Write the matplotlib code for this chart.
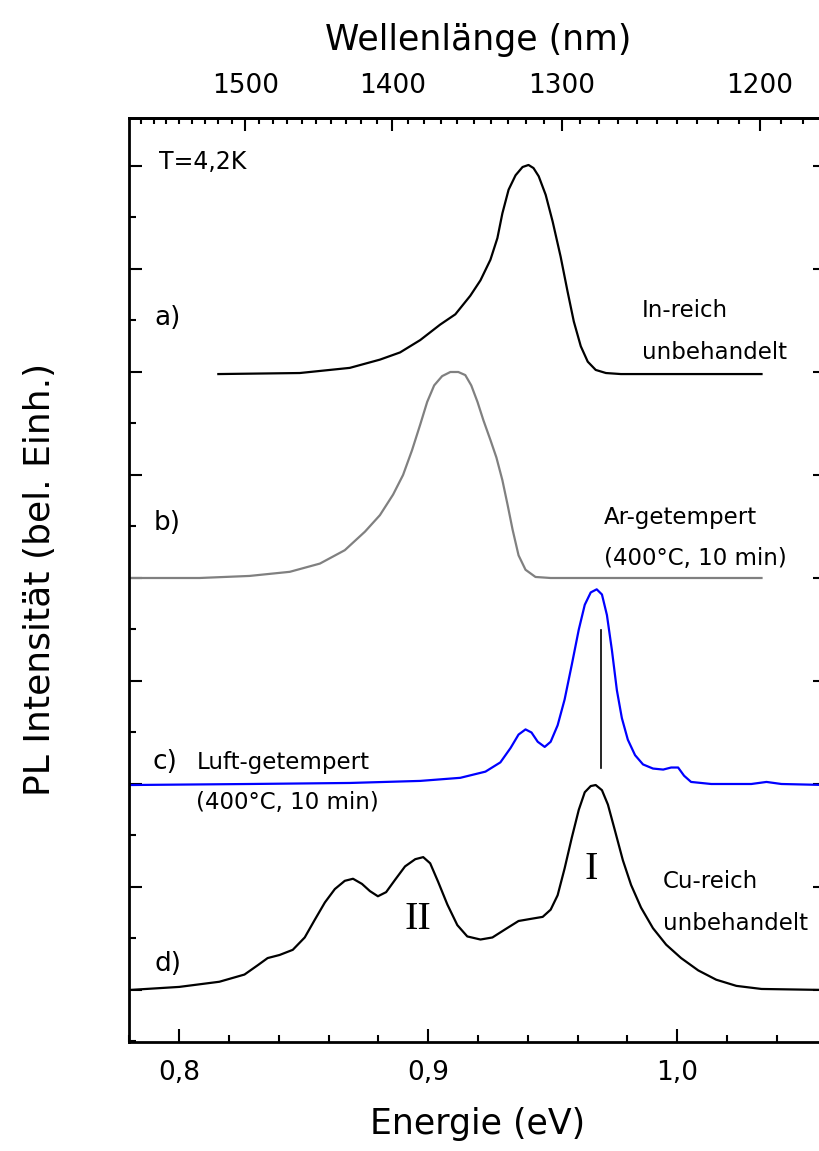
import numpy as np
import matplotlib
matplotlib.use('Agg')
import matplotlib.pyplot as plt
from matplotlib.ticker import FixedLocator, MultipleLocator, FixedFormatter

plt.rcParams['font.family'] = 'DejaVu Sans'

# spectra, energy in eV, intensity in stacked arbitrary units (one major tick = 1)
energy_a = [0.8157, 0.8484, 0.8685, 0.8806, 0.8887, 0.8968, 0.9048, 0.9109, 0.9169, 0.9210,
            0.9250, 0.9278, 0.9298, 0.9323, 0.9351, 0.9379, 0.9403, 0.9423, 0.9444, 0.9472,
            0.9500, 0.9532, 0.9560, 0.9585, 0.9613, 0.9641, 0.9673, 0.9714, 0.9774, 1.0339]
inten_a = [5.98, 5.99, 6.04, 6.12, 6.19, 6.31, 6.46, 6.56, 6.74, 6.89,
           7.09, 7.30, 7.54, 7.77, 7.91, 7.99, 8.01, 7.98, 7.90, 7.72,
           7.46, 7.12, 6.78, 6.49, 6.25, 6.10, 6.02, 5.99, 5.98, 5.98]

energy_b = [0.7800, 0.8081, 0.8282, 0.8444, 0.8565, 0.8665, 0.8746, 0.8806, 0.8859, 0.8899,
            0.8935, 0.8968, 0.8996, 0.9024, 0.9056, 0.9089, 0.9121, 0.9149, 0.9173, 0.9198,
            0.9222, 0.9250, 0.9274, 0.9298, 0.9319, 0.9339, 0.9363, 0.9391, 0.9431, 0.9492, 1.0339]
inten_b = [4.00, 4.00, 4.02, 4.06, 4.14, 4.27, 4.45, 4.61, 4.81, 5.00,
           5.24, 5.49, 5.71, 5.87, 5.96, 6.00, 6.00, 5.97, 5.87, 5.71,
           5.53, 5.34, 5.17, 4.95, 4.71, 4.47, 4.22, 4.08, 4.01, 4.00, 4.00]

energy_c = [0.7800, 0.8282, 0.8685, 0.8968, 0.9129, 0.9230, 0.9290, 0.9331, 0.9363, 0.9391,
            0.9415, 0.9440, 0.9468, 0.9492, 0.9520, 0.9548, 0.9577, 0.9605, 0.9629, 0.9653,
            0.9677, 0.9698, 0.9718, 0.9738, 0.9758, 0.9778, 0.9802, 0.9831, 0.9863, 0.9903,
            0.9944, 0.9976, 1.0004, 1.0028, 1.0056, 1.0137, 1.0298, 1.0359, 1.0419, 1.0600]
inten_c = [1.99, 2.00, 2.01, 2.03, 2.06, 2.12, 2.21, 2.35, 2.48, 2.53,
           2.50, 2.41, 2.36, 2.41, 2.57, 2.82, 3.16, 3.50, 3.74, 3.86,
           3.89, 3.84, 3.64, 3.30, 2.91, 2.64, 2.43, 2.28, 2.19, 2.15,
           2.14, 2.16, 2.16, 2.08, 2.02, 2.00, 2.00, 2.02, 2.00, 1.99]

energy_d = [0.7800, 0.8000, 0.8161, 0.8262, 0.8315, 0.8355, 0.8403, 0.8456, 0.8504, 0.8544,
            0.8585, 0.8625, 0.8665, 0.8698, 0.8734, 0.8766, 0.8798, 0.8831, 0.8867, 0.8907,
            0.8948, 0.8980, 0.9008, 0.9040, 0.9077, 0.9117, 0.9157, 0.9210, 0.9258, 0.9310,
            0.9363, 0.9411, 0.9460, 0.9492, 0.9520, 0.9548, 0.9577, 0.9605, 0.9629, 0.9653,
            0.9673, 0.9698, 0.9722, 0.9750, 0.9782, 0.9815, 0.9855, 0.9903, 0.9956, 1.0016,
            1.0085, 1.0157, 1.0238, 1.0339, 1.0600]
inten_d = [0.00, 0.03, 0.08, 0.15, 0.24, 0.31, 0.34, 0.39, 0.51, 0.68,
           0.85, 0.98, 1.06, 1.08, 1.03, 0.96, 0.91, 0.95, 1.07, 1.20,
           1.27, 1.29, 1.23, 1.05, 0.83, 0.63, 0.52, 0.49, 0.51, 0.59,
           0.67, 0.69, 0.71, 0.78, 0.92, 1.18, 1.48, 1.75, 1.92, 1.98,
           1.99, 1.94, 1.80, 1.55, 1.26, 1.02, 0.80, 0.60, 0.44, 0.31,
           0.19, 0.10, 0.04, 0.01, 0.00]

# marker line at peak I of spectrum c
peak_line_energy = 0.9694
peak_line_inten = [2.155, 3.495]

energy_ticks = [0.8, 0.9, 1.0]
energy_labels = ['0,8', '0,9', '1,0']
wavelength_ticks = [1200, 1300, 1400, 1500]
wavelength_labels = ['1200', '1300', '1400', '1500']

HC = 1239.84  # eV nm

fig = plt.figure(figsize=(8.2, 11.51), dpi=100)
ax = fig.add_axes([0.1579, 0.09496, 0.85, 0.80252])

ax.plot(energy_a, inten_a, color='black', lw=1.6)
ax.plot(energy_b, inten_b, color='#808080', lw=1.6)
ax.plot(energy_c, inten_c, color='#0000ff', lw=1.6)
ax.plot(energy_d, inten_d, color='black', lw=1.6)
ax.plot([peak_line_energy, peak_line_energy], peak_line_inten, color='black', lw=1.2)

ax.set_xlim(0.78, 1.06)
ax.set_ylim(-0.502, 8.466)

ax.xaxis.set_major_locator(FixedLocator(energy_ticks))
ax.xaxis.set_major_formatter(FixedFormatter(energy_labels))
ax.xaxis.set_minor_locator(MultipleLocator(0.02))
ax.yaxis.set_major_locator(MultipleLocator(1))
ax.yaxis.set_minor_locator(MultipleLocator(0.5))
ax.tick_params(axis='x', which='both', direction='in', top=False, labelsize=19, pad=13.5)
ax.tick_params(axis='y', which='both', direction='in', left=True, right=True, labelleft=False)
ax.tick_params(which='major', length=9.5, width=1.5)
ax.tick_params(which='minor', length=5, width=1.5)
for s in ax.spines.values():
    s.set_linewidth(2)

secax = ax.secondary_xaxis('top', functions=(lambda e: HC / e, lambda l: HC / l))
secax.xaxis.set_major_locator(FixedLocator(wavelength_ticks))
secax.xaxis.set_major_formatter(FixedFormatter(wavelength_labels))
secax.xaxis.set_minor_locator(MultipleLocator(10))
secax.tick_params(which='both', direction='in', labelsize=19, pad=13.5, width=1.5)
secax.tick_params(which='major', length=9.5)
secax.tick_params(which='minor', length=4.5)
secax.spines['top'].set_linewidth(2)

ax.set_xlabel('Energie (eV)', fontsize=25)
ax.xaxis.set_label_coords(0.5, -0.071)
secax.set_xlabel('Wellenlänge (nm)', fontsize=25, labelpad=17)
ax.set_ylabel('PL Intensität (bel. Einh.)', fontsize=26)
ax.yaxis.set_label_coords(-0.104, 0.5)

kw = dict(fontsize=16.5, ha='left', va='center')
ax.text(0.7919, 8.04, 'T=4,2K', fontsize=17, ha='left', va='center')
ax.text(0.9859, 6.60, 'In-reich', **kw)
ax.text(0.9859, 6.19, 'unbehandelt', **kw)
ax.text(0.9706, 4.59, 'Ar-getempert', **kw)
ax.text(0.9706, 4.19, '(400°C, 10 min)', **kw)
ax.text(0.8069, 2.21, 'Luft-getempert', **kw)
ax.text(0.8069, 1.82, '(400°C, 10 min)', **kw)
ax.text(0.9944, 1.05, 'Cu-reich', **kw)
ax.text(0.9944, 0.65, 'unbehandelt', **kw)

lab = dict(fontsize=19, ha='left', va='center')
ax.text(0.7899, 6.52, 'a)', **lab)
ax.text(0.7899, 4.53, 'b)', **lab)
ax.text(0.7891, 2.21, 'c)', **lab)
ax.text(0.7899, 0.25, 'd)', **lab)

ax.text(0.896, 0.68, 'II', fontsize=29, family='Liberation Serif', ha='center', va='center')
ax.text(0.9653, 1.17, 'I', fontsize=29, family='Liberation Serif', ha='center', va='center')

fig.savefig('out.png', dpi=100)
